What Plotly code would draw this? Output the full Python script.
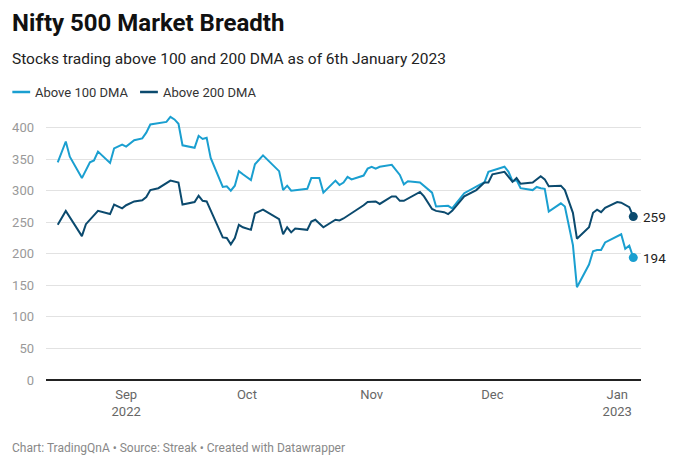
import plotly.graph_objects as go

# ---- data ----
dates_100 = ["2022-08-15","2022-08-17","2022-08-18","2022-08-21","2022-08-23","2022-08-24","2022-08-25",
             "2022-08-28","2022-08-29","2022-08-31","2022-09-01","2022-09-03","2022-09-05","2022-09-06",
             "2022-09-07","2022-09-11","2022-09-12","2022-09-13","2022-09-14","2022-09-15","2022-09-18",
             "2022-09-19","2022-09-20","2022-09-21","2022-09-22","2022-09-25","2022-09-26","2022-09-27",
             "2022-09-28","2022-09-29","2022-09-30","2022-10-02","2022-10-03","2022-10-05","2022-10-09",
             "2022-10-10","2022-10-11","2022-10-12","2022-10-16","2022-10-17","2022-10-19","2022-10-20",
             "2022-10-23","2022-10-24","2022-10-25","2022-10-26","2022-10-27","2022-10-30","2022-10-31",
             "2022-11-01","2022-11-02","2022-11-03","2022-11-06","2022-11-08","2022-11-09","2022-11-10",
             "2022-11-13","2022-11-16","2022-11-17","2022-11-19","2022-11-20","2022-11-21","2022-11-24",
             "2022-11-28","2022-11-29","2022-11-30","2022-12-01","2022-12-04","2022-12-05","2022-12-06",
             "2022-12-07","2022-12-08","2022-12-11","2022-12-12","2022-12-13","2022-12-14","2022-12-15",
             "2022-12-18","2022-12-19","2022-12-21","2022-12-22","2022-12-25","2022-12-26","2022-12-27",
             "2022-12-28","2022-12-29","2023-01-02","2023-01-03","2023-01-04","2023-01-05"]
above_100 = [345,378,354,320,345,348,362,
             344,367,373,370,380,383,392,
             405,409,417,413,406,372,368,
             387,382,384,352,306,307,300,
             308,331,326,317,342,356,331,
             301,308,300,303,320,320,297,
             316,309,313,322,318,324,335,
             338,335,338,341,325,310,315,
             313,297,275,275,276,272,296,
             310,313,330,332,338,330,315,
             317,304,301,306,304,303,267,
             280,275,214,147,183,204,206,
             206,218,231,208,213,194]

dates_200 = ["2022-08-15","2022-08-17","2022-08-21","2022-08-22","2022-08-25","2022-08-28","2022-08-29",
             "2022-08-31","2022-09-01","2022-09-03","2022-09-05","2022-09-06","2022-09-07","2022-09-09",
             "2022-09-12","2022-09-14","2022-09-15","2022-09-18","2022-09-19","2022-09-20","2022-09-21",
             "2022-09-25","2022-09-26","2022-09-27","2022-09-28","2022-09-29","2022-09-30","2022-10-02",
             "2022-10-03","2022-10-05","2022-10-09","2022-10-10","2022-10-11","2022-10-12","2022-10-13",
             "2022-10-16","2022-10-17","2022-10-18","2022-10-20","2022-10-23","2022-10-24","2022-10-25",
             "2022-10-30","2022-10-31","2022-11-02","2022-11-03","2022-11-06","2022-11-07","2022-11-08",
             "2022-11-09","2022-11-13","2022-11-14","2022-11-16","2022-11-17","2022-11-19","2022-11-20",
             "2022-11-21","2022-11-24","2022-11-27","2022-11-29","2022-11-30","2022-12-01","2022-12-04",
             "2022-12-06","2022-12-07","2022-12-08","2022-12-11","2022-12-13","2022-12-14","2022-12-15",
             "2022-12-18","2022-12-19","2022-12-21","2022-12-22","2022-12-25","2022-12-26","2022-12-27",
             "2022-12-28","2022-12-29","2023-01-01","2023-01-02","2023-01-04","2023-01-05"]
above_200 = [246,268,228,247,268,263,278,
             272,277,283,285,290,301,304,
             316,313,278,282,292,284,283,
             226,225,215,225,246,242,238,
             264,270,255,231,242,234,240,
             238,251,254,242,254,253,256,
             277,282,283,279,291,291,284,
             284,298,291,271,268,266,263,
             268,291,301,313,313,326,330,
             314,320,311,313,323,318,307,
             308,301,265,224,242,265,270,
             266,273,282,281,274,259]

x_tick_vals = ["2022-09-01","2022-10-01","2022-11-01","2022-12-01","2023-01-01"]
x_tick_text = ["Sep<br>2022","Oct","Nov","Dec","Jan<br>2023"]
y_tick_vals = [0,50,100,150,200,250,300,350,400]

series_names = ["Above 100 DMA","Above 200 DMA"]
LIGHT = "#1a9fd0"
DARK = "#0b4a6e"
FONT = "Roboto"

fig = go.Figure()
for name, xs, ys, col in [(series_names[0], dates_100, above_100, LIGHT),
                          (series_names[1], dates_200, above_200, DARK)]:
    fig.add_trace(go.Scatter(x=xs, y=ys, mode="lines", name=name,
                             line=dict(color=col, width=2), hoverinfo="skip", showlegend=False))
    fig.add_trace(go.Scatter(x=[xs[-1]], y=[ys[-1]], mode="markers", showlegend=False,
                             marker=dict(color=col, size=9), hoverinfo="skip"))
    fig.add_annotation(x=xs[-1], y=ys[-1], xref="x", yref="y", text=str(ys[-1]),
                       showarrow=False, xanchor="left", xshift=8,
                       font=dict(family=FONT, size=13.5, color="#222"))

W, H = 689, 467
L, R, T, B = 40, 48, 115, 87
ph = H - T - B

def py(pix):
    return (H - B - pix) / ph

def px(pix):
    return (pix - L) / (W - L - R)

# titles and footer
fig.add_annotation(x=px(4), y=py(23), xref="paper", yref="paper", text="<b>Nifty 500 Market Breadth</b>",
                   showarrow=False, xanchor="left", yanchor="middle",
                   font=dict(family=FONT, size=24, color="#111"))
fig.add_annotation(x=px(4), y=py(59), xref="paper", yref="paper",
                   text="Stocks trading above 100 and 200 DMA as of 6th January 2023",
                   showarrow=False, xanchor="left", yanchor="middle",
                   font=dict(family=FONT, size=15.5, color="#222"))
fig.add_annotation(x=px(4), y=py(448), xref="paper", yref="paper",
                   text="Chart: TradingQnA • Source: Streak • Created with Datawrapper",
                   showarrow=False, xanchor="left", yanchor="middle",
                   font=dict(family=FONT, size=12, color="#888"))

# legend (manual)
for (x0, x1, tx, col, name) in [(6, 24, 27, LIGHT, series_names[0]), (135, 153, 156, DARK, series_names[1])]:
    fig.add_shape(type="line", xref="paper", yref="paper", x0=px(x0), x1=px(x1), y0=py(92), y1=py(92),
                  line=dict(color=col, width=2.5))
    fig.add_annotation(x=px(tx), y=py(92), xref="paper", yref="paper", text=name, showarrow=False,
                       xanchor="left", yanchor="middle", font=dict(family=FONT, size=13, color="#333"))

fig.update_layout(
    width=W, height=H,
    margin=dict(l=L, r=R, t=T, b=B),
    paper_bgcolor="white", plot_bgcolor="white",
    font=dict(family=FONT),
    xaxis=dict(type="date", range=["2022-08-12 02:00", "2023-01-06 22:00"],
               tickvals=x_tick_vals, ticktext=x_tick_text, showgrid=False, zeroline=False,
               showline=False, ticks="", ticklabelstandoff=5,
               tickfont=dict(family=FONT, size=13, color="#666")),
    yaxis=dict(range=[0, 420], tickvals=y_tick_vals, showgrid=True, gridcolor="#e2e2e2", gridwidth=1,
               zeroline=True, zerolinecolor="#222", zerolinewidth=1.5, showline=False, ticks="",
               ticklabelstandoff=11,
               tickfont=dict(family=FONT, size=13, color="#999")),
)

fig.write_html("out.html", config={"displayModeBar": False},
               post_script="document.body.style.margin='0';")
